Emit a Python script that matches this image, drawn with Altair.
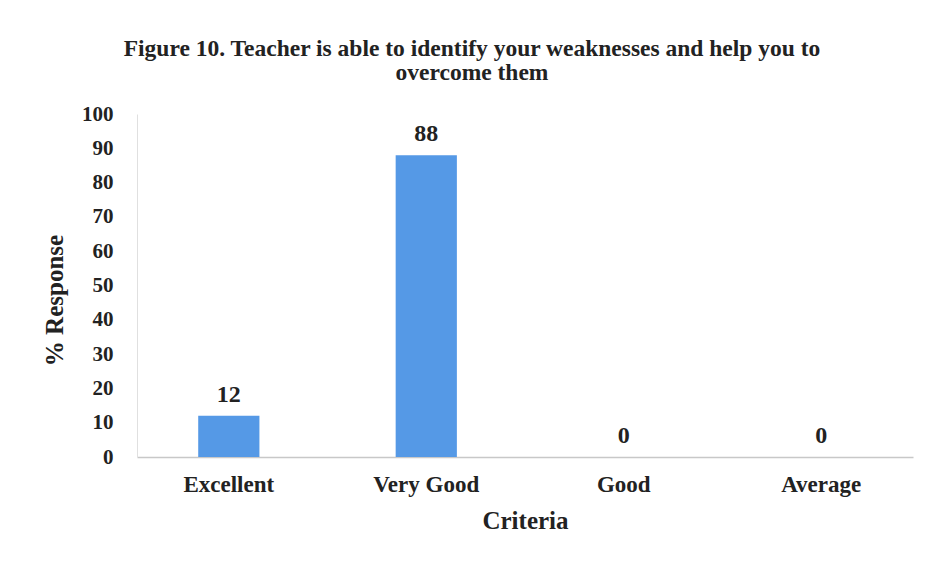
import altair as alt
import pandas as pd

categories = ["Excellent", "Very Good", "Good", "Average"]
values = [12, 88, 0, 0]
y_ticks = [0, 10, 20, 30, 40, 50, 60, 70, 80, 90, 100]

df = pd.DataFrame({"Criteria": categories, "Response": values})

FONT = "Liberation Serif"
TXT = "#222222"

x_enc = alt.X(
    "Criteria:N",
    sort=categories,
    scale=alt.Scale(paddingInner=0.69, paddingOuter=0.31),
    axis=alt.Axis(
        title="Criteria",
        labelAngle=0,
        labelFont=FONT, labelFontSize=23, labelFontWeight="bold", labelColor=TXT,
        labelPadding=16,
        titleFont=FONT, titleFontSize=25, titleFontWeight="bold", titleColor=TXT,
        titlePadding=12,
        ticks=False, grid=False,
        domainColor="#c8c8c8", domainWidth=1.5,
    ),
)

y_enc = alt.Y(
    "Response:Q",
    scale=alt.Scale(domain=[0, 100]),
    axis=alt.Axis(
        title="% Response",
        values=y_ticks,
        tickCount=11,
        labelOverlap=False,
        labelFont=FONT, labelFontSize=21, labelFontWeight="bold", labelColor=TXT,
        labelPadding=24,
        titleFont=FONT, titleFontSize=25, titleFontWeight="bold", titleColor=TXT,
        titlePadding=14,
        titleY=186,
        ticks=False, grid=False,
        domainColor="#e0e0e0", domainWidth=1,
    ),
)

base = alt.Chart(df).encode(x=x_enc, y=y_enc)

bars = base.mark_bar(color="#5599E6")

labels = base.mark_text(
    font=FONT, fontSize=24, fontWeight="bold", color=TXT,
    baseline="alphabetic", dy=-14,
).encode(text=alt.Text("Response:Q"))

chart = (
    alt.layer(bars, labels)
    .properties(
        width=776,
        height=343,
        title=alt.TitleParams(
            text=["Figure 10. Teacher is able to identify your weaknesses and help you to",
                  "overcome them"],
            font=FONT, fontSize=23.5, fontWeight="bold", color=TXT,
            anchor="middle", dx=-53, offset=19, lineHeight=24,
        ),
        padding={"left": 129, "top": 106, "right": 7, "bottom": 99},
        autosize=alt.AutoSizeParams(type="none"),
        view=alt.ViewBackground(stroke="transparent", strokeWidth=0),
    )
    .configure_view(stroke="transparent", strokeWidth=0)
    .configure_axis(grid=False)
    .configure(background="white")
)

chart.save("out.html", embed_options={"renderer": "svg", "actions": False})
